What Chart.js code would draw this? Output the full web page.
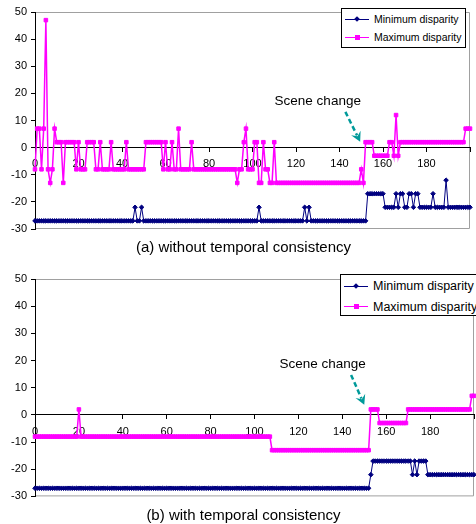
<!DOCTYPE html>
<html>
<head>
<meta charset="utf-8">
<script src="https://cdn.jsdelivr.net/npm/chart.js@4.4.1/dist/chart.umd.min.js"></script>
<style>
  body { margin: 0; width: 476px; height: 524px; overflow: hidden; position: relative; background: #fff;
         font-family: Arial, "Liberation Sans", sans-serif; color: #000; }
  canvas { position: absolute; left: 0; }
  .legend { position: absolute; background: #fff; border: 1px solid #000; box-sizing: border-box; white-space: nowrap; }
  .row { position: absolute; left: 0; height: 0; }
  .swatch { position: absolute; left: 3px; top: -0.5px; width: 24px; height: 1px; }
  .swatch i { position: absolute; left: 10px; }
  .dia { width: 4px; height: 4px; top: -1.5px; transform: rotate(45deg); }
  .sq { width: 5px; height: 5px; top: -2px; }
  .row span { position: absolute; left: 32px; top: -8px; line-height: 16px; }
  .caption { position: absolute; left: 0; width: 487px; text-align: center; font-size: 15px; line-height: 18px; }
</style>
</head>
<body>

<canvas id="chartA" width="476" height="240" style="top:0"></canvas>
<canvas id="chartB" width="480" height="245" style="top:262px"></canvas>

<div class="legend" style="left:341px; top:8px; width:125px; height:40px; font-size:10.5px;">
  <div class="row" style="top:10px"><div class="swatch" style="background:#000080"><i class="dia" style="background:#000080"></i></div><span>Minimum disparity</span></div>
  <div class="row" style="top:28px"><div class="swatch" style="background:#ff00ff"><i class="sq" style="background:#ff00ff"></i></div><span>Maximum disparity</span></div>
</div>
<div class="legend" style="left:340px; top:274px; width:150px; height:42px; font-size:12.5px;">
  <div class="row" style="top:11px"><div class="swatch" style="background:#000080"><i class="dia" style="background:#000080"></i></div><span>Minimum disparity</span></div>
  <div class="row" style="top:31.5px"><div class="swatch" style="background:#ff00ff"><i class="sq" style="background:#ff00ff"></i></div><span>Maximum disparity</span></div>
</div>

<div class="caption" style="top:238px">(a) without temporal consistency</div>
<div class="caption" style="top:506px">(b) with temporal consistency</div>

<script>
// frame index (x axis)
const frames = [
  0,1,2,3,4,5,6,7,8,9,10,11,12,13,14,15,16,17,18,19,
  20,21,22,23,24,25,26,27,28,29,30,31,32,33,34,35,36,37,38,39,
  40,41,42,43,44,45,46,47,48,49,50,51,52,53,54,55,56,57,58,59,
  60,61,62,63,64,65,66,67,68,69,70,71,72,73,74,75,76,77,78,79,
  80,81,82,83,84,85,86,87,88,89,90,91,92,93,94,95,96,97,98,99,
  100,101,102,103,104,105,106,107,108,109,110,111,112,113,114,115,116,117,118,119,
  120,121,122,123,124,125,126,127,128,129,130,131,132,133,134,135,136,137,138,139,
  140,141,142,143,144,145,146,147,148,149,150,151,152,153,154,155,156,157,158,159,
  160,161,162,163,164,165,166,167,168,169,170,171,172,173,174,175,176,177,178,179,
  180,181,182,183,184,185,186,187,188,189,190,191,192,193,194,195,196,197,198,199,
  200
];

// (a) without temporal consistency
const minNoTC = [
  -27,-27,-27,-27,-27,-27,-27,-27,-27,-27,-27,-27,-27,-27,-27,-27,-27,-27,-27,-27,
  -27,-27,-27,-27,-27,-27,-27,-27,-27,-27,-27,-27,-27,-27,-27,-27,-27,-27,-27,-27,
  -27,-27,-27,-27,-27,-27,-22,-27,-27,-22,-27,-27,-27,-27,-27,-27,-27,-27,-27,-27,
  -27,-27,-27,-27,-27,-27,-27,-27,-27,-27,-27,-27,-27,-27,-27,-27,-27,-27,-27,-27,
  -27,-27,-27,-27,-27,-27,-27,-27,-27,-27,-27,-27,-27,-27,-27,-27,-27,-27,-27,-27,
  -27,-27,-27,-22,-27,-27,-27,-27,-27,-27,-27,-27,-27,-27,-27,-27,-27,-27,-27,-27,
  -27,-27,-27,-27,-22,-27,-22,-27,-27,-27,-27,-27,-27,-27,-27,-27,-27,-27,-27,-27,
  -27,-27,-27,-27,-27,-27,-27,-27,-27,-27,-27,-27,-27,-17,-17,-17,-17,-17,-17,-17,
  -17,-22,-22,-22,-22,-22,-17,-22,-17,-17,-22,-22,-17,-17,-22,-17,-17,-22,-22,-22,
  -22,-22,-22,-17,-22,-22,-22,-22,-22,-12,-22,-22,-22,-22,-22,-22,-22,-22,-22,-22,
  -22
];
const maxNoTC = [
  -8,7,7,-8,7,47,-8,-13,-8,7,2,2,2,-13,2,2,2,2,2,-8,
  2,-8,-8,-8,2,2,2,2,-8,-8,2,-8,-8,-8,-8,2,-8,-8,-8,-8,
  -8,-8,2,-8,-8,-8,-8,-8,-8,-8,-8,2,2,2,2,2,2,2,2,-8,
  2,-8,-8,2,-8,-8,7,-8,-8,-8,-8,-8,2,-8,-8,-8,-8,-8,-8,-8,
  -8,-8,-8,-8,-8,-8,-8,-8,-8,-8,-8,-8,-8,-13,-8,-8,2,7,-8,-8,
  -8,2,2,-13,-13,2,-8,-8,-13,-13,2,-13,-13,-13,-13,-13,-13,-13,-13,-13,
  -13,-13,-13,-13,-13,-13,-13,-13,-13,-13,-13,-13,-13,-13,-13,-13,-13,-13,-13,-13,
  -13,-13,-13,-13,-13,-13,-13,-13,-13,-13,-8,-13,2,2,2,2,-3,-3,-3,-3,
  -3,-3,-3,2,2,-3,12,-3,2,2,2,2,2,2,2,2,2,2,2,2,
  2,2,2,2,2,2,2,2,2,2,2,2,2,2,2,2,2,2,7,7,
  7
];

// (b) with temporal consistency
const minTC = [
  -27,-27,-27,-27,-27,-27,-27,-27,-27,-27,-27,-27,-27,-27,-27,-27,-27,-27,-27,-27,
  -27,-27,-27,-27,-27,-27,-27,-27,-27,-27,-27,-27,-27,-27,-27,-27,-27,-27,-27,-27,
  -27,-27,-27,-27,-27,-27,-27,-27,-27,-27,-27,-27,-27,-27,-27,-27,-27,-27,-27,-27,
  -27,-27,-27,-27,-27,-27,-27,-27,-27,-27,-27,-27,-27,-27,-27,-27,-27,-27,-27,-27,
  -27,-27,-27,-27,-27,-27,-27,-27,-27,-27,-27,-27,-27,-27,-27,-27,-27,-27,-27,-27,
  -27,-27,-27,-27,-27,-27,-27,-27,-27,-27,-27,-27,-27,-27,-27,-27,-27,-27,-27,-27,
  -27,-27,-27,-27,-27,-27,-27,-27,-27,-27,-27,-27,-27,-27,-27,-27,-27,-27,-27,-27,
  -27,-27,-27,-27,-27,-27,-27,-27,-27,-27,-27,-27,-27,-22,-17,-17,-17,-17,-17,-17,
  -17,-17,-17,-17,-17,-17,-17,-17,-17,-17,-17,-17,-22,-17,-22,-17,-17,-17,-17,-22,
  -22,-22,-22,-22,-22,-22,-22,-22,-22,-22,-22,-22,-22,-22,-22,-22,-22,-22,-22,-22,
  -22
];
const maxTC = [
  -8,-8,-8,-8,-8,-8,-8,-8,-8,-8,-8,-8,-8,-8,-8,-8,-8,-8,-8,-8,
  2,-8,-8,-8,-8,-8,-8,-8,-8,-8,-8,-8,-8,-8,-8,-8,-8,-8,-8,-8,
  -8,-8,-8,-8,-8,-8,-8,-8,-8,-8,-8,-8,-8,-8,-8,-8,-8,-8,-8,-8,
  -8,-8,-8,-8,-8,-8,-8,-8,-8,-8,-8,-8,-8,-8,-8,-8,-8,-8,-8,-8,
  -8,-8,-8,-8,-8,-8,-8,-8,-8,-8,-8,-8,-8,-8,-8,-8,-8,-8,-8,-8,
  -8,-8,-8,-8,-8,-8,-8,-8,-13,-13,-13,-13,-13,-13,-13,-13,-13,-13,-13,-13,
  -13,-13,-13,-13,-13,-13,-13,-13,-13,-13,-13,-13,-13,-13,-13,-13,-13,-13,-13,-13,
  -13,-13,-13,-13,-13,-13,-13,-13,-13,-13,-13,-13,-13,2,2,2,2,-3,-3,-3,
  -3,-3,-3,-3,-3,-3,-3,-3,-3,-3,2,2,2,2,2,2,2,2,2,2,
  2,2,2,2,2,2,2,2,2,2,2,2,2,2,2,2,2,2,2,7,
  7
];

const yTicks = [-30, -20, -10, 0, 10, 20, 30, 40, 50];
const xTickStep = 20;
const noteLabel = 'Scene change';

const FONT = 'Arial, "Liberation Sans", sans-serif';

// grey box round the plot area (top, right, bottom)
const plotFrame = {
  id: 'plotFrame',
  beforeDraw(chart) {
    const { ctx, chartArea: a } = chart;
    ctx.save();
    ctx.strokeStyle = '#a0a0a0';
    ctx.lineWidth = 1;
    ctx.beginPath();
    ctx.moveTo(a.left, a.top + 0.5);
    ctx.lineTo(a.right - 0.5, a.top + 0.5);
    ctx.lineTo(a.right - 0.5, a.bottom - 0.5);
    ctx.lineTo(a.left, a.bottom - 0.5);
    ctx.stroke();
    ctx.restore();
  }
};

// "Scene change" text with dashed arrow, placed in data units
const sceneNote = {
  id: 'sceneNote',
  afterDatasetsDraw(chart, args, opts) {
    const { ctx, scales: { x, y } } = chart;
    ctx.save();
    ctx.font = '13.5px ' + FONT;
    ctx.fillStyle = '#000';
    ctx.textAlign = 'center';
    ctx.textBaseline = 'middle';
    ctx.fillText(opts.label, x.getPixelForValue(opts.text[0]), y.getPixelForValue(opts.text[1]));

    const x1 = x.getPixelForValue(opts.from[0]), y1 = y.getPixelForValue(opts.from[1]);
    const x2 = x.getPixelForValue(opts.to[0]), y2 = y.getPixelForValue(opts.to[1]);
    const ang = Math.atan2(y2 - y1, x2 - x1);
    ctx.strokeStyle = opts.color;
    ctx.lineWidth = 2.5;
    ctx.setLineDash([5, 3]);
    ctx.beginPath();
    ctx.moveTo(x1, y1);
    ctx.lineTo(x2 - 7 * Math.cos(ang), y2 - 7 * Math.sin(ang));
    ctx.stroke();
    ctx.setLineDash([]);
    ctx.fillStyle = opts.color;
    ctx.beginPath();
    ctx.moveTo(x2, y2);
    ctx.lineTo(x2 - 11 * Math.cos(ang - 0.5), y2 - 11 * Math.sin(ang - 0.5));
    ctx.lineTo(x2 - 6 * Math.cos(ang), y2 - 6 * Math.sin(ang));
    ctx.lineTo(x2 - 11 * Math.cos(ang + 0.5), y2 - 11 * Math.sin(ang + 0.5));
    ctx.closePath();
    ctx.fill();
    ctx.restore();
  }
};

function makeChart(id, minVals, maxVals, padding, note) {
  return new Chart(document.getElementById(id), {
    type: 'line',
    data: {
      datasets: [
        {
          label: 'Minimum disparity',
          data: frames.map((f, i) => ({ x: f, y: minVals[i] })),
          borderColor: '#000080',
          backgroundColor: '#000080',
          borderWidth: 1,
          pointStyle: 'rectRot',
          pointRadius: 2.3,
          pointBorderWidth: 1,
          clip: false
        },
        {
          label: 'Maximum disparity',
          data: frames.map((f, i) => ({ x: f, y: maxVals[i] })),
          borderColor: '#ff00ff',
          backgroundColor: '#ff00ff',
          borderWidth: 1.5,
          pointStyle: 'rect',
          pointRadius: 2.5,
          pointBorderWidth: 1,
          clip: false
        }
      ]
    },
    options: {
      responsive: false,
      animation: false,
      devicePixelRatio: 1,
      layout: { padding: padding, autoPadding: false },
      plugins: {
        legend: { display: false },
        tooltip: { enabled: false },
        sceneNote: note
      },
      scales: {
        x: {
          type: 'linear',
          min: 0,
          max: 200,
          position: { y: 0 },
          afterFit: (s) => { s.height = 0; },
          grid: { drawOnChartArea: false, tickLength: 4, color: '#000' },
          border: { color: '#000', width: 1 },
          ticks: {
            stepSize: xTickStep,
            maxRotation: 0,
            padding: 6,
            color: '#000',
            font: { family: FONT, size: 11 },
            callback: (v) => (v === 200 ? '' : v)
          }
        },
        y: {
          min: yTicks[0],
          max: yTicks[yTicks.length - 1],
          afterFit: (s) => { s.width = 35; },
          afterBuildTicks: (s) => { s.ticks = yTicks.map(v => ({ value: v })); },
          grid: { drawOnChartArea: false, tickLength: 4, color: '#000' },
          border: { color: '#000', width: 1 },
          ticks: {
            padding: 4,
            color: '#000',
            font: { family: FONT, size: 11 }
          }
        }
      }
    },
    plugins: [plotFrame, sceneNote]
  });
}

makeChart('chartA', minNoTC, maxNoTC, { top: 12, right: 4, bottom: 11, left: 0 }, {
  label: noteLabel, color: '#009a9a',
  text: [130, 17.1], from: [142.7, 13.2], to: [149.5, 2.2]
});

makeChart('chartB', minTC, maxTC, { top: 17, right: 5, bottom: 10, left: 0 }, {
  label: noteLabel, color: '#009a9a',
  text: [131, 18.6], from: [144, 14.7], to: [150, 3.7]
});
</script>
</body>
</html>
